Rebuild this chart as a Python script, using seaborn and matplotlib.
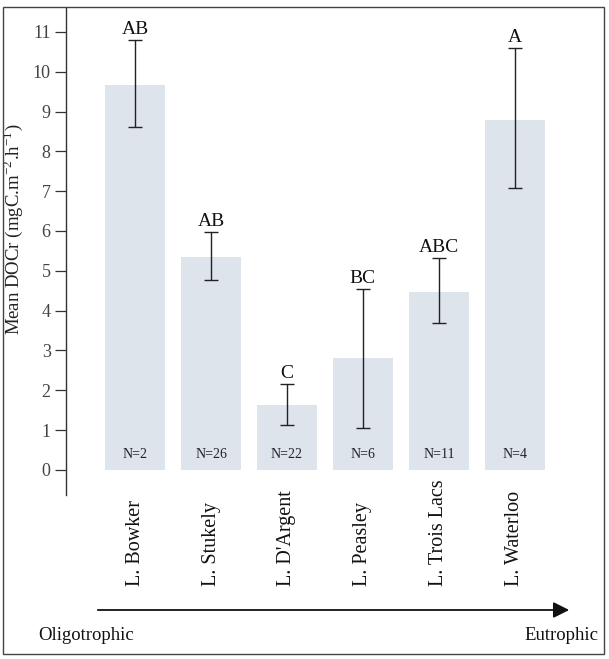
import matplotlib
matplotlib.use("Agg")
import matplotlib.pyplot as plt
import matplotlib.transforms as mtransforms
from matplotlib.patches import Rectangle, FancyArrowPatch
import seaborn as sns
import pandas as pd

lakes = ["L. Bowker", "L. Stukely", "L. D'Argent", "L. Peasley", "L. Trois Lacs", "L. Waterloo"]
means = [9.67, 5.35, 1.62, 2.82, 4.48, 8.79]
err_high = [10.8, 5.98, 2.16, 4.55, 5.33, 10.6]
err_low = [8.62, 4.77, 1.13, 1.06, 3.69, 7.08]
letters = ["AB", "AB", "C", "BC", "ABC", "A"]
n_labels = ["N=2", "N=26", "N=22", "N=6", "N=11", "N=4"]
yticks = list(range(0, 12))

sns.set_style("white")
plt.rcParams['font.family'] = ['Liberation Serif', 'DejaVu Serif']
plt.rcParams['mathtext.fontset'] = 'stix'

W, H = 609, 659
fig = plt.figure(figsize=(W / 100, H / 100), dpi=100)
left, right, top, bottom = 66, 590, 8, 495
ax = fig.add_axes([left / W, 1 - bottom / H, (right - left) / W, (bottom - top) / H])

df = pd.DataFrame({"lake": lakes, "mean": means})
sns.barplot(data=df, x="lake", y="mean", color="#dde4ec", saturation=1,
            width=0.79, errorbar=None, ax=ax, linewidth=0)

xs = list(range(len(lakes)))
yerr = [[m - lo for m, lo in zip(means, err_low)], [hi - m for m, hi in zip(means, err_high)]]
ax.errorbar(xs, means, yerr=yerr, fmt="none", ecolor="#222222", elinewidth=1.0,
            capsize=5, capthick=1.0)

for x, hi, lab in zip(xs, err_high, letters):
    ax.text(x, hi + 0.05, lab, ha="center", va="bottom", fontsize=14, color="#111111")
for x, lab in zip(xs, n_labels):
    ax.text(x, 0.38, lab, ha="center", va="center", fontsize=10, color="#222222")

ax.set_ylim(-0.63, 11.6)
ax.set_xlim(-0.91, 5.99)
ax.set_yticks(yticks)
ax.set_yticklabels([str(t) for t in yticks], fontsize=13, color="#444444")
ax.tick_params(axis="y", direction="out", length=8, width=0.9, color="#333333", pad=3, left=True)
ax.tick_params(axis="x", bottom=False, labelbottom=False)
ax.set_xlabel("")
ax.set_ylabel(r"Mean DOCr (mgC.m$^{\mathregular{-2}}$.h$^{\mathregular{-1}}$)", fontsize=13.5, color="#222222")
ax.yaxis.label.set_va("center")
ax.yaxis.set_label_coords((13 - left) / (right - left), 1 - (229 - top) / (bottom - top))
for s in ["top", "right", "bottom"]:
    ax.spines[s].set_visible(False)
ax.spines["left"].set_color("#333333")
ax.spines["left"].set_linewidth(1.0)

trans = mtransforms.blended_transform_factory(ax.transData, fig.transFigure)
for x, lab in zip(xs, lakes):
    ax.text(x, 1 - 586 / H, lab, rotation=90, ha="center", va="bottom",
            fontsize=14.5, color="#111111", transform=trans, clip_on=False)

arrow = FancyArrowPatch((95 / W, 1 - 610 / H), (572 / W, 1 - 610 / H),
                        transform=fig.transFigure, arrowstyle="-|>,head_length=6,head_width=3",
                        color="#111111", linewidth=1.3, mutation_scale=1.6)
fig.patches.append(arrow)
fig.text(38 / W, 1 - 636 / H, "Oligotrophic", ha="left", va="center", fontsize=13.5, color="#111111")
fig.text(598 / W, 1 - 636 / H, "Eutrophic", ha="right", va="center", fontsize=13.5, color="#111111")

fig.patches.append(Rectangle((3 / W, 1 - 654 / H), 601 / W, 647 / H, transform=fig.transFigure,
                             fill=False, edgecolor="#444444", linewidth=1.0))

fig.savefig("out.png", dpi=100)
